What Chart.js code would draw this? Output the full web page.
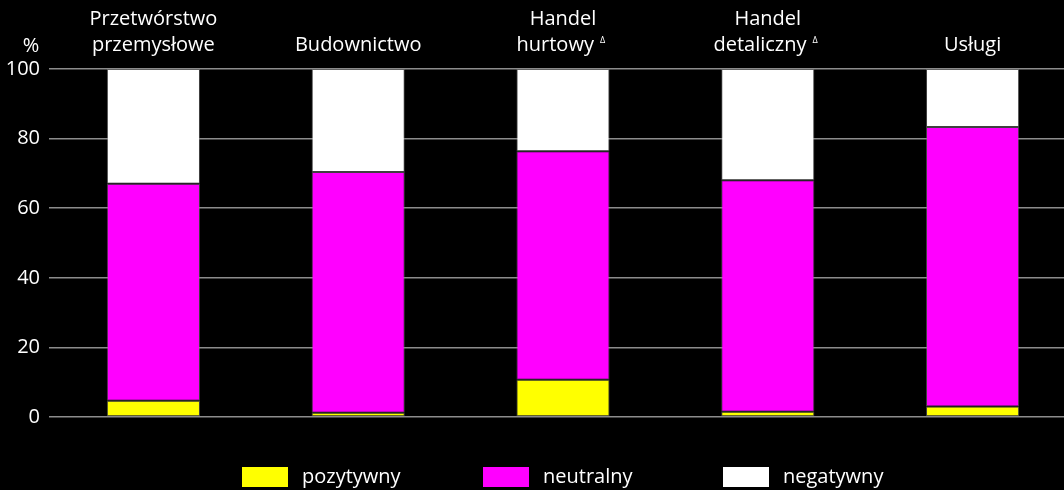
<!DOCTYPE html>
<html>
<head>
<meta charset="utf-8">
<script src="https://cdn.jsdelivr.net/npm/chart.js@4/dist/chart.umd.min.js"></script>
<style>
  html, body { margin: 0; padding: 0; background: #000; overflow: hidden; width: 1064px; height: 490px; }
  #wrap { position: absolute; left: 0; top: 0; width: 1075px; height: 490px; }
  #legend { position: absolute; left: 0; top: 0; width: 1064px; height: 490px; pointer-events: none; }
  .lg-box { position: absolute; width: 46px; height: 20px; }
  .lg-txt { position: absolute; color: #fff; font-family: "Open Sans", sans-serif; font-size: 20px; line-height: 24px; white-space: nowrap; }
</style>
</head>
<body>
<div id="wrap"><canvas id="c"></canvas></div>
<div id="legend"></div>
<script>
const categories = [
  ["Przetwórstwo", "przemysłowe"],
  ["Budownictwo"],
  ["Handel", "hurtowy   "],
  ["Handel", "detaliczny   "],
  ["Usługi"]
];
const superscriptIdx = [2, 3];
const seriesNames = ["pozytywny", "neutralny", "negatywny"];
const seriesColors = ["#ffff00", "#ff00ff", "#ffffff"];
const pozytywny = [4.7, 1.2, 10.7, 1.5, 3.0];
const neutralny = [62.3, 69.2, 65.7, 66.5, 80.3];
const negatywny = [33.0, 29.6, 23.6, 32.0, 16.7];
const yTicks = [0, 20, 40, 60, 80, 100];

const FONT = '"Open Sans", sans-serif';
const FS = 20;

const values = [pozytywny, neutralny, negatywny];
const datasets = seriesNames.map((n, i) => ({
  label: n,
  data: values[i],
  backgroundColor: seriesColors[i],
  borderColor: 'rgba(128,128,128,0.5)',
  borderWidth: 1,
  borderSkipped: false,
  categoryPercentage: 1,
  barPercentage: 0.455
}));

const extras = {
  id: 'extras',
  afterDraw(chart) {
    const ctx = chart.ctx;
    const x = chart.scales.x;
    ctx.save();
    ctx.fillStyle = '#fff';
    ctx.font = FS + 'px ' + FONT;
    ctx.textAlign = 'center';
    ctx.textBaseline = 'middle';
    ctx.fillText('%', 31, 46);
    superscriptIdx.forEach(i => {
      const lbl = categories[i][1];
      const cx = x.getPixelForValue(i);
      ctx.font = FS + 'px ' + FONT;
      const W = ctx.measureText(lbl).width;
      const w = ctx.measureText(lbl.trimEnd()).width;
      ctx.font = '9px ' + FONT;
      ctx.textAlign = 'left';
      ctx.textBaseline = 'alphabetic';
      ctx.fillText('\u0394', cx - W / 2 + w + 6, 43);
    });
    ctx.restore();
  }
};

new Chart(document.getElementById('c'), {
  type: 'bar',
  data: { labels: categories, datasets },
  options: {
    responsive: true,
    maintainAspectRatio: false,
    animation: false,
    layout: { padding: { top: 0, right: 0, bottom: 73, left: 0 } },
    plugins: { legend: { display: false }, tooltip: { enabled: false } },
    scales: {
      x: {
        position: 'top',
        stacked: true,
        grid: { display: false },
        border: { display: false },
        ticks: { color: '#fff', font: { family: FONT, size: FS, lineHeight: 1.3 }, padding: 3, maxRotation: 0, autoSkip: false },
        afterFit(s) { s.height = 69; }
      },
      y: {
        stacked: true,
        min: 0, max: 100,
        afterBuildTicks(s) { s.ticks = yTicks.map(v => ({ value: v })); },
        grid: { color: '#8c8c8c', lineWidth: 1.5, tickLength: 2, drawTicks: true },
        border: { display: false },
        ticks: { color: '#fff', font: { family: FONT, size: FS }, padding: 9 },
        afterFit(s) { s.width = 51; }
      }
    }
  },
  plugins: [extras]
});

const lg = document.getElementById('legend');
const lgLeft = [242, 483, 723];
seriesNames.forEach((n, i) => {
  const b = document.createElement('div');
  b.className = 'lg-box';
  b.style.left = lgLeft[i] + 'px';
  b.style.top = '467px';
  b.style.background = seriesColors[i];
  lg.appendChild(b);
  const t = document.createElement('div');
  t.className = 'lg-txt';
  t.style.left = (lgLeft[i] + 60) + 'px';
  t.style.top = '464px';
  t.textContent = n;
  lg.appendChild(t);
});
</script>
</body>
</html>
